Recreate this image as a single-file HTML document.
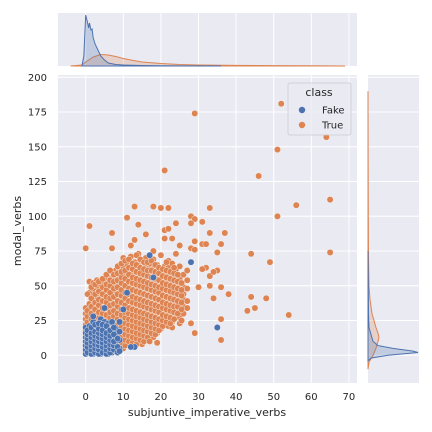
<!DOCTYPE html>
<html><head><meta charset="utf-8"><style>
body{margin:0;background:#fff;}
svg{display:block;font-family:"DejaVu Sans","Liberation Sans",sans-serif;}
</style></head><body>
<svg id="c" width="432" height="432" viewBox="0 0 432 432"></svg>
<script>
const NS="http://www.w3.org/2000/svg";
// ---- data ----
const xTicks=[0,10,20,30,40,50,60,70];
const yTicks=[0,25,50,75,100,125,150,175,200];
const trueOutX=[0,1,29,52,64,51,46,21,65,56,51,65,44,49,44,48,43,45,54,36,29,28,36,13,18,20,22,33,11,28,29,24,28,31,21,22,14,7,16,33,37,21,23,29,13,12,7,25,31,32,36,28,29,18,35,38,34,36,30,33,35,32,31,33,34,19,17];
const trueOutY=[77,93,174,181,157,148,129,133,112,108,100,74,73,67,42,41,32,34,29,11,16,23,26,107,107,106,106,106,99,100,98,95,95,96,90,91,94,88,87,88,88,84,84,82,83,79,77,79,80,80,80,77,76,75,74,44,41,49,49,50,61,63,62,57,60,9,10];
const trueCloudX=[0,1,2,3,4,5,6,7,8,9,10,11,12,13,14,15,16,17,18,19,20,21,22,23,24,25,26,27];
const trueCloudY=[
[2,6,10,14,18,22,26,30,34],
[4,8,12,16,20,24,28,32,37,45,53],
[3,7,11,15,19,23,27,31,35,40,48,52],
[5,9,13,17,21,25,29,33,38,42,50,54],
[4,8,12,16,20,24,28,32,36,41,46,51],
[3,7,11,15,19,23,27,31,36,40,44,49,53],
[5,9,13,17,21,25,29,33,38,43,47,52,56],
[6,10,14,18,22,26,30,34,39,45,50,55,60],
[4,8,12,16,20,24,28,32,37,41,46,51,56,61],
[7,11,15,19,23,27,31,35,40,45,49,54,58,62],
[5,9,13,17,21,25,29,33,38,43,47,52,57,63,70],
[8,12,16,20,24,28,32,36,41,46,50,55,60,66],
[7,11,15,19,23,27,31,35,40,44,49,54,58,64,71],
[6,10,14,18,22,26,30,34,39,43,48,53,57,62,67],
[9,13,17,21,25,29,33,38,42,47,52,56,61,65,73],
[8,12,16,20,24,28,32,37,41,46,51,55,60,68],
[11,15,19,23,27,31,36,40,45,50,54,59,64,70],
[14,18,22,26,30,35,39,44,49,53,58,63,66],
[13,17,21,25,29,34,38,43,48,52,57,62,69],
[16,20,24,28,33,37,42,47,51,56,61,65],
[19,23,27,32,36,41,46,50,55,60,72],
[22,26,31,35,40,45,49,54,59,64],
[21,25,30,34,39,44,48,53,58,63,68],
[20,24,29,33,38,43,47,52,57,66],
[28,32,37,42,46,51,56,62,73],
[23,27,36,41,45,50,55,64],
[30,35,40,44,49,58],
[34,39,48,54,61]];
const trueCloud2X=[0.5,1.5,2.5,3.5,4.5,5.5,6.5,7.5,8.5,9.5,10.5,11.5,12.5,13.5,14.5,15.5,16.5,17.5,18.5,19.5,20.5,21.5,22.5,23.5,24.5,25.5];
const trueCloud2Y=[
[4,8,12,16,20,24,28,32,44],
[6,10,14,18,22,26,30,35,41,49],
[5,9,13,17,21,25,29,33,38,44,51],
[7,11,15,19,23,27,31,36,40,46,53],
[6,10,14,18,22,26,30,34,39,44,49,55],
[5,9,13,17,21,25,29,34,38,42,47,51,58],
[7,11,15,19,23,27,31,36,41,45,50,54,61],
[8,12,16,20,24,28,32,37,42,48,53,58],
[6,10,14,18,22,26,30,35,39,44,49,54,59,64],
[9,13,17,21,25,29,33,38,43,47,52,56,60,66],
[7,11,15,19,23,27,31,36,41,45,50,55,61,68],
[10,14,18,22,26,30,34,39,44,48,53,58,63,69],
[9,13,17,21,25,29,33,38,42,47,52,56,62,66],
[8,12,16,20,24,28,32,37,41,46,51,55,60,65,72],
[11,15,19,23,27,31,36,40,45,50,54,59,63,69],
[10,14,18,22,26,30,35,39,44,49,53,58,62,67],
[13,17,21,25,29,34,38,43,48,52,57,61,67],
[16,20,24,28,33,37,42,47,51,56,61,68],
[15,19,23,27,32,36,41,46,50,55,60,65],
[18,22,26,31,35,40,45,49,54,59,63],
[21,25,29,34,38,43,48,52,57,62],
[24,28,33,37,42,47,51,56,61,67],
[23,27,32,36,41,46,50,55,60],
[26,31,35,40,45,49,54,59,63],
[30,35,39,44,48,53,58],
[25,33,38,43,47,52]];
const fakeCloudX=[0,1,2,3,4,5,6,7,8,9,0.5,1.5,2.5,3.5,4.5,5.5,6.5,7.5,8.5];
const fakeCloudY=[
[1,4,7,10,13,16,20],
[2,5,8,11,14,18,21],
[1,3,6,9,12,15,19,24],
[2,5,8,11,14,17,21],
[1,4,7,10,13,16,20,26],
[2,5,8,11,14,18,24],
[1,3,6,9,12,15,19,23],
[2,5,8,13,17,24],
[3,7,10,15,19],
[5,11,17,24],
[2,6,9,12,15,18],
[1,4,7,10,13,16,20],
[2,5,8,11,14,17,22],
[1,4,7,10,13,16,19,23],
[2,6,9,12,15,18,22],
[1,4,7,10,13,16,21],
[2,5,8,11,14,18],
[4,7,10,15,20],
[2,6,12]];
const fakeOutX=[17,28,18,11,5,10,2,35,13,12,9];
const fakeOutY=[72,67,56,45,34,33,28,20,6,6,3];
const kdeTopFakeX=[-1,-0.5,0,0.4,0.8,1,1.4,1.7,2,2.5,3,4,5,6,8,10,15,20,36];
const kdeTopFakeD=[0,10,51,45,38,43,36,37,28,22,18,10,6,3,1.5,1,0.5,0.3,0];
const kdeTopTrueX=[-4,-1,0,2,4,6,8,10,12,15,20,25,30,40,50,60,69];
const kdeTopTrueD=[0,1,4,9,11.5,11,9.5,7.5,6,4,2.5,1.5,1,0.6,0.4,0.3,0];
const kdeRightFakeY=[-4,-2,0,2,3,5,7,10,15,20,30,50,75];
const kdeRightFakeD=[0,3,20,50,45,25,10,5,3,1,0.5,0.3,0];
const kdeRightTrueY=[-10,-5,0,5,10,13,16,20,25,30,40,50,70,100,150,190];
const kdeRightTrueD=[0,1,5,8,10,11,10,8,6,4,2,1,0.5,0.3,0.1,0];
// ---- layout ----
const M={l:58,r:357,t:75,b:383}, T={t:13,b:66}, R={l:368,r:419};
const xs=v=>85.7+v*3.76, ys=v=>355.3-v*1.39;
const BLUE="#4c72b0", ORANGE="#dd8452", TXT="#262626";
const svg=document.getElementById('c');
function el(tag,a,parent){const e=document.createElementNS(NS,tag);for(const k in a)e.setAttribute(k,a[k]);(parent||svg).appendChild(e);return e;}
let bg=el('rect',{x:M.l,y:M.t,width:M.r-M.l,height:M.b-M.t,fill:'#eaeaf2'});

let bt=el('rect',{x:M.l,y:T.t,width:M.r-M.l,height:T.b-T.t,fill:'#eaeaf2'});

let br=el('rect',{x:R.l,y:M.t,width:R.r-R.l,height:M.b-M.t,fill:'#eaeaf2'});

xTicks.forEach(v=>{const x=xs(v);
 el('line',{x1:x,x2:x,y1:M.t,y2:M.b,stroke:'#fff','stroke-width':1});
 el('line',{x1:x,x2:x,y1:T.t,y2:T.b,stroke:'#fff','stroke-width':1});
 const t=el('text',{x:x,y:400,'text-anchor':'middle','font-size':10,fill:TXT});t.textContent=v;
 });
yTicks.forEach(v=>{const y=ys(v);
 el('line',{x1:M.l,x2:M.r,y1:y,y2:y,stroke:'#fff','stroke-width':1});
 el('line',{x1:R.l,x2:R.r,y1:y,y2:y,stroke:'#fff','stroke-width':1});
 const t=el('text',{x:47,y:y+3.5,'text-anchor':'end','font-size':10,fill:TXT});t.textContent=v;
 });
const gp=el('g',{});
function dot(x,y,c){const d=el('circle',{cx:xs(x),cy:ys(y),r:3.2,fill:c,stroke:'#fff','stroke-width':0.4},gp);
 }
trueCloudX.forEach((x,i)=>trueCloudY[i].forEach(y=>dot(x,y,ORANGE)));
trueCloud2X.forEach((x,i)=>trueCloud2Y[i].forEach(y=>dot(x,y,ORANGE)));
trueOutX.forEach((x,i)=>dot(x,trueOutY[i],ORANGE));
fakeCloudX.forEach((x,i)=>fakeCloudY[i].forEach(y=>dot(x,y,BLUE)));
fakeOutX.forEach((x,i)=>dot(x,fakeOutY[i],BLUE));
function topKde(X,D,c,name){let p=`M${xs(X[0])},${T.b}`;X.forEach((x,i)=>p+=`L${xs(x)},${T.b-D[i]}`);p+=`L${xs(X[X.length-1])},${T.b}Z`;
 const e=el('path',{d:p,fill:c,'fill-opacity':0.25,stroke:c,'stroke-width':1});}
function rightKde(Y,D,c,name){let p=`M${R.l},${ys(Y[0])}`;Y.forEach((y,i)=>p+=`L${R.l+D[i]},${ys(y)}`);p+=`L${R.l},${ys(Y[Y.length-1])}Z`;
 const e=el('path',{d:p,fill:c,'fill-opacity':0.25,stroke:c,'stroke-width':1});}
topKde(kdeTopTrueX,kdeTopTrueD,ORANGE,'top-kde-true');
topKde(kdeTopFakeX,kdeTopFakeD,BLUE,'top-kde-fake');
rightKde(kdeRightTrueY,kdeRightTrueD,ORANGE,'right-kde-true');
rightKde(kdeRightFakeY,kdeRightFakeD,BLUE,'right-kde-fake');
const lg=el('g',{});
el('rect',{x:288,y:83,width:63,height:52,rx:2,fill:'#eaeaf2','fill-opacity':0.8,stroke:'#cccccc','stroke-width':0.8},lg);
let lt=el('text',{x:319,y:96,'text-anchor':'middle','font-size':11,fill:TXT},lg);lt.textContent='class';

[['Fake',BLUE,110],['True',ORANGE,125]].forEach(([n,c,y])=>{
 const g=el('g',{},lg);
 el('circle',{cx:302,cy:y,r:3.2,fill:c},g);
 const t=el('text',{x:322,y:y+3.5,'font-size':10,fill:TXT},g);t.textContent=n;});
let xl=el('text',{x:207,y:416,'text-anchor':'middle','font-size':11,fill:TXT});xl.textContent='subjuntive_imperative_verbs';

let yl=el('text',{x:0,y:0,'text-anchor':'middle','font-size':11,fill:TXT,transform:'translate(21,231) rotate(-90)'});yl.textContent='modal_verbs';

</script>
</body></html>
